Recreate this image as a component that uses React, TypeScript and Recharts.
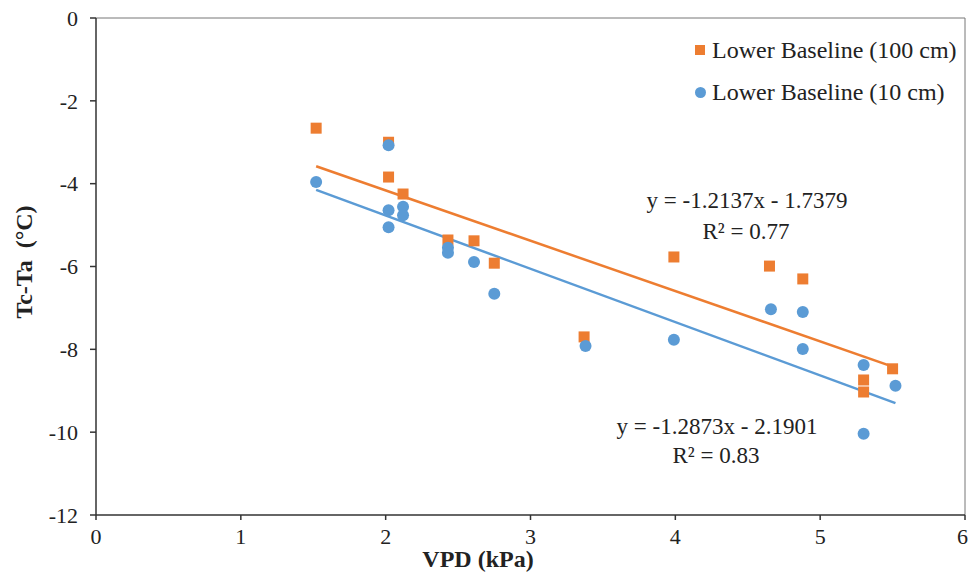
import { ScatterChart, Scatter, XAxis, YAxis, ReferenceLine } from 'recharts'

const orangeX = [1.52, 2.02, 2.02, 2.12, 2.43, 2.61, 2.75, 3.37, 3.99, 4.65, 4.88, 5.3, 5.3, 5.5]
const orangeY = [-2.66, -3.0, -3.84, -4.25, -5.36, -5.38, -5.92, -7.7, -5.77, -5.99, -6.3, -8.74, -9.03, -8.47]

const blueX = [1.52, 2.02, 2.02, 2.02, 2.12, 2.12, 2.43, 2.43, 2.61, 2.75, 3.38, 3.99, 4.66, 4.88, 4.88, 5.3, 5.3, 5.52]
const blueY = [-3.96, -3.07, -4.64, -5.05, -4.56, -4.76, -5.55, -5.67, -5.89, -6.66, -7.92, -7.77, -7.03, -7.1, -7.99, -8.38, -10.04, -8.88]

// trendline end points
const orangeTrendX = [1.52, 5.52]
const orangeTrendY = [-3.58, -8.44]
const blueTrendX = [1.52, 5.52]
const blueTrendY = [-4.15, -9.3]

const xTicks = [0, 1, 2, 3, 4, 5, 6]
const yTicks = [0, -2, -4, -6, -8, -10, -12]

const ORANGE = '#ED7D31'
const BLUE = '#5B9BD5'
const FONT = '"Liberation Serif", "DejaVu Serif", serif'

const zip = (xs: number[], ys: number[]) => xs.map((x, i) => ({ x, y: ys[i] }))

const orangeData = zip(orangeX, orangeY)
const blueData = zip(blueX, blueY)
const orangeTrend = zip(orangeTrendX, orangeTrendY)
const blueTrend = zip(blueTrendX, blueTrendY)

const Square = (p: any) => <rect x={p.cx - 5.5} y={p.cy - 5.5} width={11} height={11} fill={ORANGE} />
const Dot = (p: any) => <circle cx={p.cx} cy={p.cy} r={6} fill={BLUE} />
const Nothing = () => <g />

const tick = { fill: '#222', fontSize: 22, fontFamily: FONT }
const note: React.CSSProperties = { position: 'absolute', fontSize: 23, color: '#222', whiteSpace: 'pre', transform: 'translate(-50%, -50%)', lineHeight: 1 }

export default function App() {
  return (
    <div style={{ position: 'absolute', left: 0, top: 0, width: 968, height: 573, background: '#fff', fontFamily: FONT }}>
      <style>{`.recharts-wrapper text, .recharts-wrapper tspan { font-family: ${FONT}; }`}</style>
      <ScatterChart width={968} height={573} margin={{ top: 18, right: 3, bottom: 0, left: 0 }}>
        <XAxis type="number" dataKey="x" domain={[0, 6]} ticks={xTicks} height={58} tick={tick}
          stroke="#333" strokeWidth={1.5} tickSize={5} tickMargin={8} allowDataOverflow />
        <YAxis type="number" dataKey="y" domain={[-12, 0]} ticks={yTicks} width={96} tick={tick}
          stroke="#333" strokeWidth={1.5} tickSize={6} tickMargin={12} allowDataOverflow />
        <ReferenceLine y={0} stroke="#777" strokeWidth={1} />
        <ReferenceLine x={6} stroke="#777" strokeWidth={1} />
        <Scatter data={orangeTrend} line={{ stroke: ORANGE, strokeWidth: 2.5 }} shape={Nothing} legendType="none" isAnimationActive={false} />
        <Scatter data={blueTrend} line={{ stroke: BLUE, strokeWidth: 2.5 }} shape={Nothing} legendType="none" isAnimationActive={false} />
        <Scatter name="Lower Baseline (100 cm)" data={orangeData} shape={Square} isAnimationActive={false} />
        <Scatter name="Lower Baseline (10 cm)" data={blueData} shape={Dot} isAnimationActive={false} />
      </ScatterChart>

      {/* axis titles */}
      <div style={{ ...note, left: 478, top: 559, fontSize: 24, fontWeight: 'bold' }}>VPD (kPa)</div>
      <div style={{ ...note, left: 24, top: 262, fontSize: 24, fontWeight: 'bold', transform: 'translate(-50%, -50%) rotate(-90deg)' }}>Tc-Ta  (°C)</div>

      {/* legend */}
      <div style={{ position: 'absolute', left: 695, top: 29, fontSize: 24, color: '#222', lineHeight: '42px' }}>
        <div style={{ display: 'flex', alignItems: 'center' }}>
          <span style={{ width: 10, height: 10, background: ORANGE, marginRight: 7, display: 'inline-block' }} />
          Lower Baseline (100 cm)
        </div>
        <div style={{ display: 'flex', alignItems: 'center' }}>
          <span style={{ width: 11, height: 11, borderRadius: '50%', background: BLUE, marginRight: 6, display: 'inline-block' }} />
          Lower Baseline (10 cm)
        </div>
      </div>

      {/* trendline equations */}
      <div style={{ ...note, left: 747, top: 200 }}>y = -1.2137x - 1.7379</div>
      <div style={{ ...note, left: 746, top: 231 }}>R² = 0.77</div>
      <div style={{ ...note, left: 717, top: 426 }}>y = -1.2873x - 2.1901</div>
      <div style={{ ...note, left: 716, top: 455 }}>R² = 0.83</div>
    </div>
  )
}
